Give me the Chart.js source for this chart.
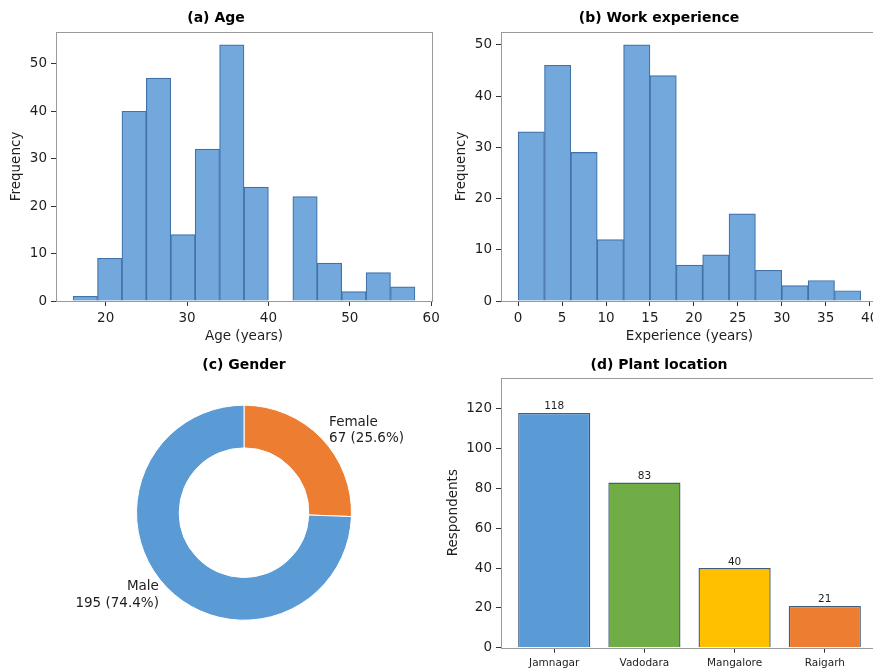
<!DOCTYPE html>
<html>
<head>
<meta charset="utf-8">
<title>Respondent profile</title>
<script src="https://cdn.jsdelivr.net/npm/chart.js@4.4.1/dist/chart.umd.min.js"></script>
<style>
  html, body { margin: 0; padding: 0; background: #fff; }
  body { position: relative; width: 873px; height: 669px; overflow: hidden; }
  .panel { position: absolute; }
  canvas { display: block; }
</style>
</head>
<body>
<div class="panel" style="left:0;top:0"><canvas id="ageChart" width="445" height="345"></canvas></div>
<div class="panel" style="left:440px;top:0"><canvas id="expChart" width="445" height="345"></canvas></div>
<div class="panel" style="left:0;top:340px"><canvas id="genderChart" width="440" height="329"></canvas></div>
<div class="panel" style="left:440px;top:340px"><canvas id="plantChart" width="445" height="329"></canvas></div>

<script>
// ---- data ----
const ageEdges   = [16, 19, 22, 25, 28, 31, 34, 37, 40, 43, 46, 49, 52, 55, 58];
const ageCounts  = [1, 9, 40, 47, 14, 32, 54, 24, 0, 22, 8, 2, 6, 3];
const ageTicks   = [20, 30, 40, 50, 60];
const ageFreqTicks = [0, 10, 20, 30, 40, 50];

const expEdges   = [0, 3, 6, 9, 12, 15, 18, 21, 24, 27, 30, 33, 36, 39];
const expCounts  = [33, 46, 29, 12, 50, 44, 7, 9, 17, 6, 3, 4, 2];
const expTicks   = [0, 5, 10, 15, 20, 25, 30, 35, 40];
const expFreqTicks = [0, 10, 20, 30, 40, 50];

const genderLabels = ['Female', 'Male'];
const genderCounts = [67, 195];

const plantNames  = ['Jamnagar', 'Vadodara', 'Mangalore', 'Raigarh'];
const plantCounts = [118, 83, 40, 21];
const respondentTicks = [0, 20, 40, 60, 80, 100, 120];

// ---- shared style ----
const FONT = 'DejaVu Sans';
const BASE = 13.5;          // tick / axis label size
const TITLE = 14;           // panel title size
Chart.defaults.font.family = FONT;
Chart.defaults.color = '#1e1e1e';
Chart.defaults.animation = false;

const HIST_FILL = 'rgb(114,168,219)';
const HIST_EDGE = 'rgb(66,114,170)';
const SPINE = '#9a9a9a';
const TICK = '#333';

// rectangle around the plotting area (all four spines)
const frame = {
  id: 'frame',
  afterDatasetsDraw(chart) {
    const { ctx, chartArea: a } = chart;
    ctx.save();
    ctx.strokeStyle = SPINE;
    ctx.lineWidth = 1;
    const l = Math.round(a.left) + 0.5, t = Math.round(a.top) + 0.5;
    const r = Math.round(a.right) + 0.5, b = Math.round(a.bottom) + 0.5;
    ctx.strokeRect(l, t, r - l, b - t);
    ctx.restore();
  }
};

function fixedTicks(list) {
  return scale => { scale.ticks = list.map(v => ({ value: v })); };
}

function axisGrid() {
  return { display: true, drawOnChartArea: false, drawTicks: true, tickLength: 5,
           tickColor: TICK, tickWidth: 1, offset: false };
}

function titleOpts(text, top, bottom) {
  return { display: true, text, color: '#000',
           font: { family: FONT, size: TITLE, weight: 'bold' },
           padding: { top, bottom } };
}

function histogram(id, title, edges, counts, xTicks, yTicks, xLabel, yLabelPad, yAxisWidth, padRight) {
  const span = edges[edges.length - 1] - edges[0];
  const points = counts.map((c, i) => ({ x: (edges[i] + edges[i + 1]) / 2, y: c }));
  new Chart(document.getElementById(id), {
    type: 'bar',
    data: { datasets: [{
      data: points,
      backgroundColor: HIST_FILL,
      borderColor: HIST_EDGE,
      borderWidth: 1.2,
      barPercentage: 1,
      categoryPercentage: 1
    }] },
    options: {
      responsive: false,
      layout: { padding: { left: 0, right: padRight, top: 0, bottom: 0 } },
      plugins: {
        legend: { display: false },
        tooltip: { enabled: false },
        title: titleOpts(title, 9.6, 5.6)
      },
      scales: {
        x: {
          type: 'linear',
          offset: false,
          min: edges[0] - 0.05 * span,
          max: edges[edges.length - 1] + 0.05 * span,
          afterBuildTicks: fixedTicks(xTicks),
          afterFit: s => { s.height = 44; },
          grid: axisGrid(),
          border: { display: false },
          ticks: { font: { size: BASE }, padding: 4, maxRotation: 0, autoSkip: false },
          title: { display: true, text: xLabel, font: { size: BASE }, padding: { top: 0, bottom: 0.5 } }
        },
        y: {
          min: 0,
          max: Math.max(...counts) * 1.05,
          afterBuildTicks: fixedTicks(yTicks),
          afterFit: s => { s.width = yAxisWidth; },
          grid: axisGrid(),
          border: { display: false },
          ticks: { font: { size: BASE }, padding: 4 },
          title: { display: true, text: 'Frequency', font: { size: BASE }, padding: { top: yLabelPad, bottom: 0 } }
        }
      }
    },
    plugins: [frame]
  });
}

// (a) Age
histogram('ageChart', '(a) Age', ageEdges, ageCounts, ageTicks, ageFreqTicks,
          'Age (years)', 8.7, 56, 13);
// (b) Work experience
histogram('expChart', '(b) Work experience', expEdges, expCounts, expTicks, expFreqTicks,
          'Experience (years)', 13.2, 61, 7);

// (c) Gender doughnut with outside labels
const sliceLabels = {
  id: 'sliceLabels',
  afterDatasetsDraw(chart) {
    const { ctx } = chart;
    const ds = chart.data.datasets[0];
    const total = ds.data.reduce((a, b) => a + b, 0);
    ctx.save();
    ctx.font = BASE + 'px "' + FONT + '"';
    ctx.fillStyle = '#1e1e1e';
    ctx.textBaseline = 'middle';
    chart.getDatasetMeta(0).data.forEach((arc, i) => {
      const mid = (arc.startAngle + arc.endAngle) / 2;
      const rr = arc.outerRadius * 1.1;
      const x = arc.x + rr * Math.cos(mid);
      const y = arc.y + rr * Math.sin(mid);
      ctx.textAlign = x >= arc.x ? 'left' : 'right';
      const v = ds.data[i];
      const pct = (100 * v / total).toFixed(1);
      ctx.fillText(chart.data.labels[i], x, y - 8.3);
      ctx.fillText(v + ' (' + pct + '%)', x, y + 8.3);
    });
    ctx.restore();
  }
};

new Chart(document.getElementById('genderChart'), {
  type: 'doughnut',
  data: {
    labels: genderLabels,
    datasets: [{
      data: genderCounts,
      backgroundColor: ['#ed7d31', '#5b9bd5'],
      borderColor: '#ffffff',
      borderWidth: 1,
      radius: 107.5,
      cutout: 64.5
    }]
  },
  options: {
    responsive: false,
    layout: { padding: { left: 136.5, right: 88.5, top: 0, bottom: 48.8 } },
    plugins: {
      legend: { display: false },
      tooltip: { enabled: false },
      title: titleOpts('(c) Gender', 16.6, 31.8)
    }
  },
  plugins: [sliceLabels]
});

// (d) Plant location bars with value labels
const valueLabels = {
  id: 'valueLabels',
  afterDatasetsDraw(chart) {
    const { ctx } = chart;
    const ds = chart.data.datasets[0];
    ctx.save();
    ctx.font = '10.5px "' + FONT + '"';
    ctx.fillStyle = '#1e1e1e';
    ctx.textAlign = 'center';
    ctx.textBaseline = 'bottom';
    chart.getDatasetMeta(0).data.forEach((bar, i) => {
      ctx.fillText(String(ds.data[i].y), bar.x, bar.y - 1);
    });
    ctx.restore();
  }
};

new Chart(document.getElementById('plantChart'), {
  type: 'bar',
  data: {
    datasets: [{
      data: plantCounts.map((v, i) => ({ x: i, y: v })),
      backgroundColor: ['#5b9bd5', '#70ad47', '#ffc000', '#ed7d31'],
      borderColor: 'rgba(46,74,112,0.9)',
      borderWidth: 1.4,
      barPercentage: 0.8,
      categoryPercentage: 1
    }]
  },
  options: {
    responsive: false,
    layout: { padding: { left: 0, right: 7, top: 0, bottom: 0 } },
    plugins: {
      legend: { display: false },
      tooltip: { enabled: false },
      title: titleOpts('(d) Plant location', 16.6, 4.3)
    },
    scales: {
      x: {
        type: 'linear',
        offset: false,
        min: -0.59,
        max: plantNames.length - 1 + 0.59,
        afterBuildTicks: fixedTicks(plantNames.map((_, i) => i)),
        afterFit: s => { s.height = 21.3; },
        grid: axisGrid(),
        border: { display: false },
        ticks: { font: { size: 10.5 }, padding: 4, maxRotation: 0, autoSkip: false,
                 callback: v => plantNames[v] }
      },
      y: {
        min: 0,
        max: Math.max(...plantCounts) * 1.15,
        afterBuildTicks: fixedTicks(respondentTicks),
        afterFit: s => { s.width = 61; },
        grid: axisGrid(),
        border: { display: false },
        ticks: { font: { size: BASE }, padding: 4 },
        title: { display: true, text: 'Respondents', font: { size: BASE }, padding: { top: 5, bottom: 0 } }
      }
    }
  },
  plugins: [frame, valueLabels]
});
</script>
</body>
</html>
